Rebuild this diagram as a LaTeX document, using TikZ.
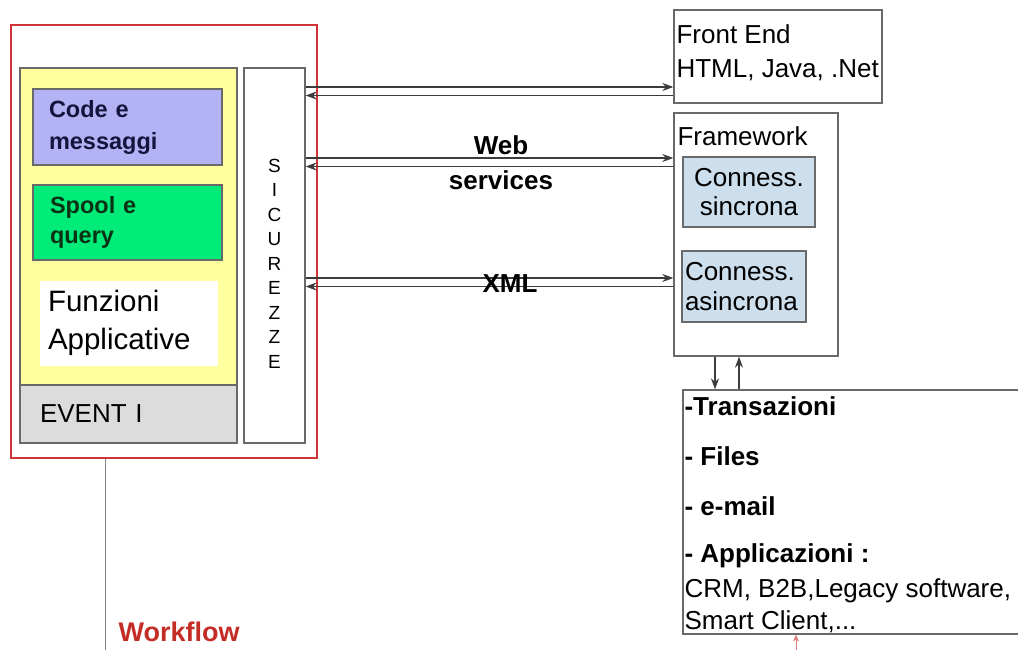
\documentclass[tikz,border=0pt]{standalone}
\usepackage{fontspec}
\setmainfont{Liberation Sans}
\usepackage{tikz}
\usetikzlibrary{arrows,arrows.meta,positioning}
\usepackage{xcolor}
\definecolor{wsrosso}{RGB}{208,52,52}
\definecolor{wsgiallo}{RGB}{255,255,160}
\definecolor{wslilla}{RGB}{178,178,245}
\definecolor{wsverde}{RGB}{0,235,120}
\definecolor{wsgrigio}{RGB}{220,220,220}
\definecolor{wsceleste}{RGB}{205,222,236}
\definecolor{wsbordo}{RGB}{105,105,105}
\definecolor{wslinea}{RGB}{60,60,60}
\definecolor{wsflow}{RGB}{196,44,38}
\tikzstyle{blocco} = [draw=wsbordo, line width=1.3pt, inner ysep=0pt]
\tikzstyle{freccia} = [line width=1.4pt,-{Stealth[length=11pt,width=8pt]},color=wslinea]

\begin{document}
\begin{tikzpicture}[x=1pt, y=-1pt]
\clip (0,0) rectangle (1018,650);
\fill[white] (0,0) rectangle (1018,650);

% sistema a sinistra
\node[draw=wsrosso, line width=1.3pt, minimum width=306pt, minimum height=433pt] (sistema) at (164,241.5) {};
\node[blocco, fill=wsgiallo, minimum width=217pt, minimum height=317pt] (appl) at (128.5,226.5) {};
\node[blocco, fill=wsgrigio, minimum width=217pt, minimum height=58pt, inner xsep=20pt, text width=177pt, align=left,
  font=\fontsize{26}{32}\selectfont] (eventi) at (128.5,414) {EVENT I};
\node[blocco, fill=wslilla, minimum width=189pt, minimum height=76pt, inner xsep=16pt, text width=157pt, align=left,
  text={rgb,255:red,20;green,20;blue,60}, font=\bfseries\fontsize{23.5}{32}\selectfont] (code) at (127.5,127) {Code e\\messaggi};
\node[blocco, fill=wsverde, minimum width=189pt, minimum height=75pt, inner xsep=17pt, text width=155pt, align=left,
  text={rgb,255:red,10;green,50;blue,20}, font=\bfseries\fontsize{23.5}{30}\selectfont] (spool) at (127.5,222.5) {Spool e\\query};
\node[fill=white, minimum width=178pt, minimum height=85pt, inner xsep=8pt, inner ysep=0pt, text width=162pt, align=left,
  font=\fontsize{29.5}{38}\selectfont] (funz) at (129,323) {Funzioni\\Applicative};
\node[blocco, fill=white, minimum width=61pt, minimum height=375pt] (sic) at (274.5,255.5) {};
\node[align=center, inner sep=0pt, font=\fontsize{19}{24.5}\selectfont] (sictesto) at ([yshift=-8pt]sic.center)
  {S\\I\\C\\U\\R\\E\\Z\\Z\\E};

% destinazioni
\node[blocco, fill=white, minimum width=208pt, minimum height=93pt] (fe) at (778,56.5) {};
\node[anchor=north west, inner sep=0pt, align=left, font=\fontsize{26}{34}\selectfont] (fetesto)
  at ([xshift=3pt,yshift=-15pt]fe.north west) {Front End\\HTML, Java, .Net};
\node[blocco, fill=white, minimum width=164pt, minimum height=243pt] (fw) at (756,234.5) {};
\node[anchor=north west, inner sep=0pt, font=\fontsize{26}{32}\selectfont] (fwtesto)
  at ([xshift=4pt,yshift=-14pt]fw.north west) {Framework};
\node[blocco, fill=wsceleste, minimum width=132pt, minimum height=70pt, align=center,
  font=\fontsize{26}{29}\selectfont] (sinc) at (749,192) {Conness.\\sincrona};
\node[blocco, fill=wsceleste, minimum width=124pt, minimum height=71pt, inner xsep=3pt, text width=118pt, align=left,
  font=\fontsize{26}{30}\selectfont] (asinc) at (744,286.5) {Conness.\\asincrona};
\node[blocco, fill=white, minimum width=360pt, minimum height=244pt] (canali) at (863,512) {};
\node[anchor=north west, inner sep=0pt, align=left, font=\fontsize{26}{32}\selectfont] (voci)
  at ([xshift=2pt,yshift=-7.5pt]canali.north west)
  {\textbf{-Transazioni}\\[18pt]\textbf{- Files}\\[18pt]\textbf{- e-mail}\\[15pt]\textbf{- Applicazioni :}\\[3pt]
   CRM, B2B,Legacy software,\\Smart Client,...};

% collegamenti
\coordinate (r1) at (0,87);
\coordinate (r2) at (0,95.5);
\coordinate (r3) at (0,158);
\coordinate (r4) at (0,166.5);
\coordinate (r5) at (0,278);
\coordinate (r6) at (0,286.5);
\draw[freccia] (sic.east |- r1) -- (fe.west |- r1);
\draw[freccia] (fe.west |- r2) -- (sic.east |- r2);
\draw[freccia] (sic.east |- r3) -- (fw.west |- r3);
\draw[freccia] (fw.west |- r4) -- (sic.east |- r4);
\draw[freccia] (sic.east |- r5) -- (fw.west |- r5);
\draw[freccia] (fw.west |- r6) -- (sic.east |- r6);
\node[font=\bfseries\fontsize{26}{35}\selectfont, align=center] (websrv) at (501,163) {Web\\services};
\node[font=\bfseries\fontsize{26}{30}\selectfont, inner sep=0pt] (xml) at (510,284) {XML};

\coordinate (v1) at (715,0);
\coordinate (v2) at (739,0);
\draw[freccia] (fw.south -| v1) -- (canali.north -| v1);
\draw[freccia] (canali.north -| v2) -- (fw.south -| v2);

% workflow
\coordinate (wfbase) at (105,650);
\draw[line width=1pt, color=gray] (sistema.south -| wfbase) -- (wfbase);
\node[font=\bfseries\fontsize{27}{30}\selectfont, text=wsflow] (workflow) at (179,632) {Workflow};
\coordinate (wfarr) at (796,652);
\draw[line width=0.8pt,-{Stealth[length=7pt,width=6pt]},color=wsflow!60] (wfarr) -- (canali.south -| wfarr);
\end{tikzpicture}
\end{document}
